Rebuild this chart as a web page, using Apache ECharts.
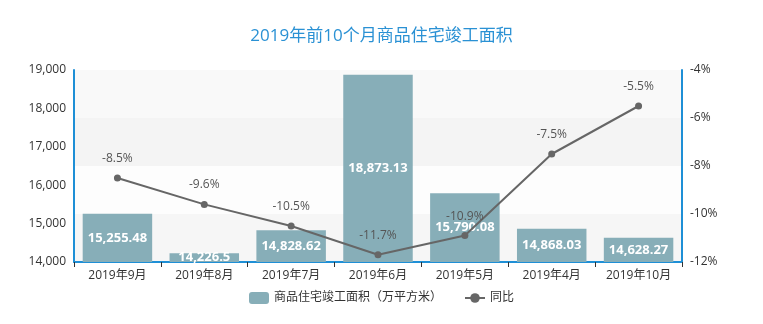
<!DOCTYPE html>
<html><head><meta charset="utf-8">
<script src="https://cdn.jsdelivr.net/npm/echarts@6/dist/echarts.min.js"></script>
<style>html,body{margin:0;padding:0;background:#fff}#c{width:763px;height:324px}</style>
</head><body><div id="c"></div>
<script>
const categories = ['2019年9月','2019年8月','2019年7月','2019年6月','2019年5月','2019年4月','2019年10月'];
const areaValues = [15255.48, 14226.5, 14828.62, 18873.13, 15790.08, 14868.03, 14628.27];
const yoyValues = [-8.5, -9.6, -10.5, -11.7, -10.9, -7.5, -5.5];
const FONT = '"Open Sans", "Noto Sans CJK SC", sans-serif';
const chart = echarts.init(document.getElementById('c'));
chart.setOption({
  animation: false,
  textStyle: {fontFamily: FONT},
  title: {text: '2019年前10个月商品住宅竣工面积', left: 'center', top: 23,
    textStyle: {color: '#2a91d4', fontSize: 17, fontWeight: 'normal', fontFamily: FONT}},
  legend: {bottom: 15, itemGap: 22, itemWidth: 20, itemHeight: 12,
    textStyle: {color: '#333', fontSize: 12, fontFamily: FONT},
    data: [{name: '商品住宅竣工面积（万平方米）', icon: 'roundRect'}, {name: '同比'}]},
  grid: {left: 74, right: 81, top: 70, bottom: 62},
  xAxis: {type: 'category', data: categories,
    axisLine: {lineStyle: {color: '#1e8fd6', width: 2}},
    axisTick: {show: true, lineStyle: {color: '#333'}},
    axisLabel: {color: '#333', fontSize: 12, margin: 8}},
  yAxis: [
    {type: 'value', min: 14000, max: 19000, interval: 1000,
     axisLine: {show: true, lineStyle: {color: '#1e8fd6', width: 2}},
     axisTick: {show: false},
     axisLabel: {color: '#333', fontSize: 12, formatter: v => v.toLocaleString('en-US')},
     splitLine: {lineStyle: {color: '#e8e8e8'}}},
    {type: 'value', min: -12, max: -4, interval: 2,
     axisLine: {show: true, lineStyle: {color: '#1e8fd6', width: 2}},
     axisTick: {show: false},
     axisLabel: {color: '#333', fontSize: 12, formatter: '{value}%'},
     splitLine: {show: false},
     splitArea: {show: true, areaStyle: {color: ['#f6f6f6', '#fdfdfd', '#f4f4f4', '#f9f9f9']}}}
  ],
  series: [
    {name: '商品住宅竣工面积（万平方米）', type: 'bar', data: areaValues, barWidth: '80%',
     itemStyle: {color: '#87aeb8'},
     label: {show: true, position: 'inside', color: '#fff', fontSize: 13, fontWeight: 'bold',
       formatter: p => p.value.toLocaleString('en-US', {maximumFractionDigits: 2})}},
    {name: '同比', type: 'line', yAxisIndex: 1, data: yoyValues,
     symbol: 'circle', symbolSize: 7,
     lineStyle: {color: '#666', width: 2}, itemStyle: {color: '#666'},
     label: {show: true, position: 'top', distance: 10, color: '#555', fontSize: 12, formatter: '{c}%'}}
  ]
});
</script></body></html>
